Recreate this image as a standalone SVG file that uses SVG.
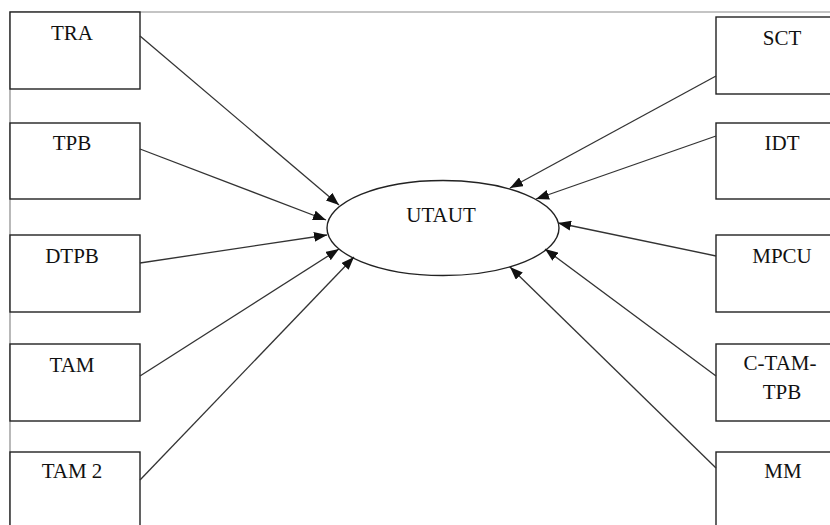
<svg xmlns="http://www.w3.org/2000/svg" width="830" height="525" viewBox="0 0 830 525">
<style>
.box{fill:#fff;stroke:#222;stroke-width:1.4}
.lbl{font-family:"Liberation Serif","Times New Roman",serif;font-size:21px;fill:#111;text-anchor:middle}
.conn line{stroke:#333;stroke-width:1.3;marker-end:url(#ah)}
.frame{stroke:#8a8a8a;stroke-width:1.2;fill:none}
</style>
<defs>
<marker id="ah" markerUnits="userSpaceOnUse" markerWidth="14" markerHeight="10" refX="13" refY="5" orient="auto">
<path d="M0,0 L13,5 L0,10 Z" fill="#111"/>
</marker>
</defs>
<rect width="830" height="525" fill="#fff"/>
<path class="frame" d="M10,525 L10,12 L830,12"/>
<g id="ellipse-utaut">
<ellipse cx="443" cy="228" rx="116" ry="47.5" fill="#fff" stroke="#222" stroke-width="1.4"/>
<text class="lbl" x="441" y="222">UTAUT</text>
</g>
<g id="node-tra"><rect class="box" x="10" y="12" width="130" height="77"/><text class="lbl" x="72" y="40">TRA</text></g>
<g id="node-tpb"><rect class="box" x="10" y="123" width="130" height="76"/><text class="lbl" x="72" y="150">TPB</text></g>
<g id="node-dtpb"><rect class="box" x="10" y="235" width="130" height="77"/><text class="lbl" x="72" y="263">DTPB</text></g>
<g id="node-tam"><rect class="box" x="10" y="344" width="130" height="77"/><text class="lbl" x="72" y="372">TAM</text></g>
<g id="node-tam2"><rect class="box" x="10" y="452" width="130" height="90"/><text class="lbl" x="72" y="478">TAM 2</text></g>
<g id="node-sct"><rect class="box" x="716" y="17" width="130" height="77"/><text class="lbl" x="782" y="45">SCT</text></g>
<g id="node-idt"><rect class="box" x="716" y="123" width="130" height="76"/><text class="lbl" x="782" y="150">IDT</text></g>
<g id="node-mpcu"><rect class="box" x="716" y="235" width="130" height="77"/><text class="lbl" x="782" y="263">MPCU</text></g>
<g id="node-ctamtpb"><rect class="box" x="716" y="344" width="130" height="77"/><text class="lbl" x="780" y="370">C-TAM-</text><text class="lbl" x="782" y="399">TPB</text></g>
<g id="node-mm"><rect class="box" x="716" y="452" width="130" height="90"/><text class="lbl" x="783" y="478">MM</text></g>
<g id="connectors" class="conn">
<line x1="140" y1="36" x2="339" y2="205"/>
<line x1="140" y1="149" x2="326" y2="220"/>
<line x1="140" y1="263" x2="327" y2="235"/>
<line x1="140" y1="376" x2="339" y2="249"/>
<line x1="140" y1="480" x2="354" y2="257"/>
<line x1="716" y1="76" x2="510" y2="188"/>
<line x1="716" y1="136" x2="536" y2="199"/>
<line x1="716" y1="256" x2="558" y2="223"/>
<line x1="716" y1="376" x2="545" y2="249"/>
<line x1="716" y1="468" x2="510" y2="267"/>
</g>
</svg>
